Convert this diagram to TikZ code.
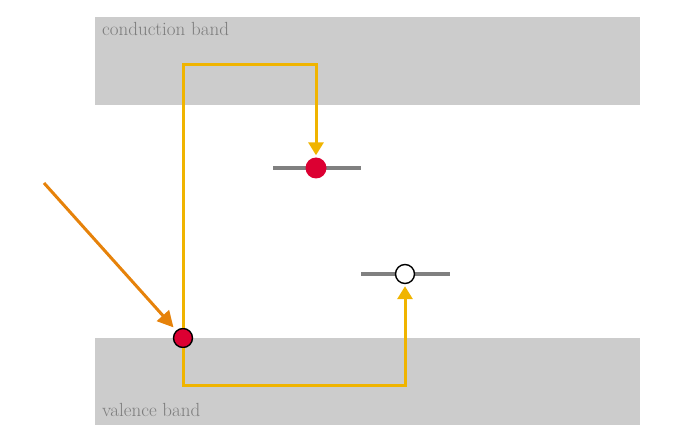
\documentclass[tikz,border=0pt]{standalone}
\usepackage{tikz}
\usetikzlibrary{arrows.meta}

\definecolor{bandgray}{RGB}{204,204,204}
\definecolor{levelgray}{RGB}{128,128,128}
\definecolor{textgray}{RGB}{125,125,125}
\definecolor{pathyellow}{RGB}{240,180,0}
\definecolor{lightorange}{RGB}{230,130,10}
\definecolor{carrierred}{RGB}{220,0,50}

\begin{document}
\begin{tikzpicture}[x=1pt,y=-1pt,line join=miter,
  band/.style={fill=bandgray,draw=none},
  bandlabel/.style={anchor=base west,inner sep=0pt,text=textgray,font=\fontsize{19}{21}\selectfont},
  level/.style={draw=levelgray,line width=4pt},
  electron/.style={circle,fill=carrierred,inner sep=0pt,minimum size=21pt},
  hole/.style={circle,draw=black,line width=1.4pt,fill=white,inner sep=0pt,minimum size=19pt},
  transition/.style={draw=pathyellow,line width=3pt,-{Triangle[width=15pt,length=13pt]}},
  photon/.style={draw=lightorange,line width=3pt,-{Triangle[width=16pt,length=16pt]}},
]
\useasboundingbox (0,0) rectangle (681,433);
%%
\fill[band] (95,17) rectangle (640,105);
\fill[band] (95,338) rectangle (640,425);
\node (label_cb) at (102,36) [bandlabel] {conduction band};
\node (label_vb) at (102,416) [bandlabel] {valence band};
%%
\draw[level] (273,168) -- (361,168);
\draw[level] (361,274) -- (450,274);
\node (node_trap) at (316,168) [electron] {};
\node (node_hole) at (405,274) [hole] {};
\node (node_exc) at (183,338) [electron,draw=black,line width=1.4pt,minimum size=19pt] {};
%%
\coordinate (corner_top) at (183,65);
\coordinate (corner_bot) at (183,385);
\coordinate (photon_start) at (44,183);
\draw [transition,shorten >=2pt] (node_exc) -- (corner_top) -| (node_trap);
\draw [transition,shorten >=2pt] (node_exc) -- (corner_bot) -| (node_hole);
\draw [photon,shorten >=4pt] (photon_start) -- (node_exc);
%
\end{tikzpicture}
\end{document}
